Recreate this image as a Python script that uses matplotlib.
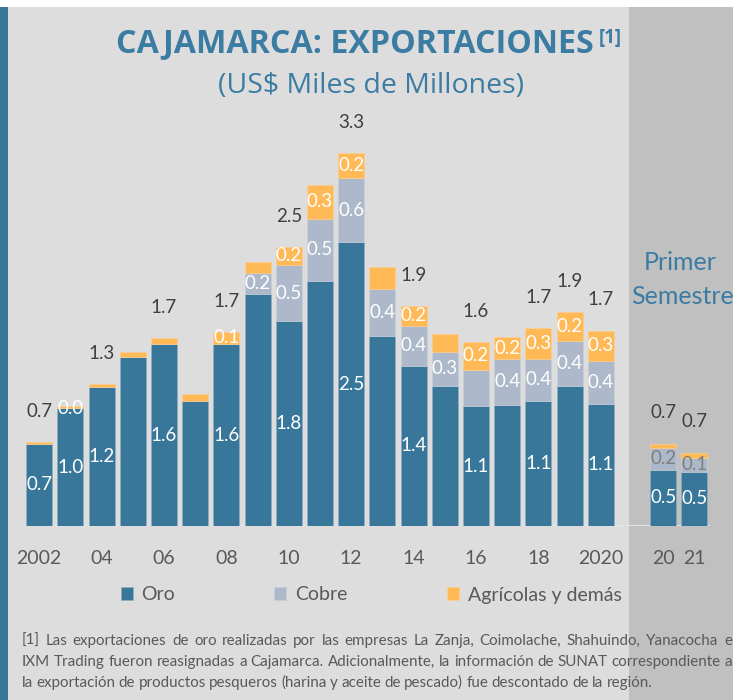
import numpy as np
import matplotlib.pyplot as plt
from matplotlib.patches import Rectangle

plt.rcParams['font.family'] = ['Lato', 'DejaVu Sans']

# ---- data (US$ miles de millones) ----
periodos = ['2002', '2003', '2004', '2005', '2006', '2007', '2008', '2009', '2010', '2011',
            '2012', '2013', '2014', '2015', '2016', '2017', '2018', '2019', '2020',
            '2020 S1', '2021 S1']
oro = [0.73, 1.04, 1.23, 1.50, 1.61, 1.11, 1.61, 2.05, 1.81, 2.17, 2.51, 1.68, 1.42,
       1.24, 1.06, 1.07, 1.11, 1.24, 1.08, 0.50, 0.48]
cobre = [0.00, 0.00, 0.00, 0.00, 0.00, 0.00, 0.00, 0.19, 0.50, 0.55, 0.57, 0.42, 0.35,
         0.30, 0.32, 0.41, 0.37, 0.40, 0.38, 0.19, 0.12]
agricolas = [0.01, 0.02, 0.03, 0.04, 0.05, 0.06, 0.11, 0.10, 0.16, 0.30, 0.22, 0.19, 0.18,
             0.16, 0.25, 0.19, 0.27, 0.25, 0.27, 0.04, 0.05]

oro_lbl = ['0.7', '1.0', '1.2', '', '1.6', '', '1.6', '', '1.8', '', '2.5', '', '1.4',
           '', '1.1', '', '1.1', '', '1.1', '0.5', '0.5']
cobre_lbl = ['', '0.0', '', '', '', '', '', '0.2', '0.5', '0.5', '0.6', '0.4', '0.4',
             '0.3', '', '0.4', '0.4', '0.4', '0.4', '0.2', '0.1']
agr_lbl = ['', '', '', '', '', '', '0.1', '', '0.2', '0.3', '0.2', '', '0.2',
           '', '0.2', '0.2', '0.3', '0.2', '0.3', '', '']
total_lbl = ['0.7', '', '1.3', '', '1.7', '', '1.7', '', '2.5', '', '3.3', '', '1.9',
             '', '1.6', '', '1.7', '1.9', '1.7', '0.7', '0.7']

tick_labels = ['2002', '04', '06', '08', '10', '12', '14', '16', '18', '2020', '20', '21']
tick_idx = [0, 2, 4, 6, 8, 10, 12, 14, 16, 18, 19, 20]

footnote = [
    "[1] Las exportaciones de oro realizadas por las empresas La Zanja, Coimolache, Shahuindo, Yanacocha e",
    "IXM Trading fueron reasignadas a Cajamarca. Adicionalmente, la información de SUNAT correspondiente a",
    "la exportación de productos pesqueros (harina y aceite de pescado) fue descontado de la región.",
]

# ---- colours ----
c_oro = '#387799'
c_cobre = '#ADB9CA'
c_agr = '#FFB957'
c_title = '#3B7CA3'
c_text = '#595959'

W, H = 744, 700
fig = plt.figure(figsize=(W / 100, H / 100), dpi=100)
fig.patch.set_facecolor('#DDDDDD')

# background panels
fig.patches.append(Rectangle((629 / W, 0), 104 / W, 693 / H, transform=fig.transFigure,
                             facecolor='#C0C0C0', edgecolor='none', zorder=-10))
fig.patches.append(Rectangle((0, 0), 8 / W, 693 / H, transform=fig.transFigure,
                             facecolor=c_oro, edgecolor='none', zorder=-10))
fig.patches.append(Rectangle((0, 693 / H), 1, 7 / H, transform=fig.transFigure,
                             facecolor='white', edgecolor='none', zorder=-10))
fig.patches.append(Rectangle((733 / W, 0), 11 / W, 1, transform=fig.transFigure,
                             facecolor='white', edgecolor='none', zorder=-10))

ax = fig.add_axes([22 / W, 174 / H, 688 / W, 3.8 * 113 / H])
ax.set_facecolor('none')
for s in ax.spines.values():
    s.set_visible(False)

x = np.array(list(range(19)) + [20, 21])
oro_a = np.array(oro)
cob_a = np.array(cobre)
agr_a = np.array(agricolas)
total = oro_a + cob_a + agr_a

w = 0.83
b1 = ax.bar(x, oro_a, w, color=c_oro, edgecolor='#8FAFC4', linewidth=0.4, label='Oro')
b2 = ax.bar(x, cob_a, w, bottom=oro_a, color=c_cobre, edgecolor='#C9D1DB', linewidth=0.4,
            label='Cobre')
b3 = ax.bar(x, agr_a, w, bottom=oro_a + cob_a, color=c_agr, edgecolor='#FFD08F',
            linewidth=0.4, label='Agrícolas y demás')
ax.axhline(0, color='#E6E6E6', lw=1.5, zorder=0)

fs = 13.5
for i in range(len(x)):
    if oro_lbl[i]:
        ax.text(x[i], oro_a[i] / 2, oro_lbl[i], ha='center', va='center', color='white',
                fontsize=fs)
    if cobre_lbl[i]:
        col = '#7F7F7F' if i >= 19 else 'white'
        ax.text(x[i], oro_a[i] + cob_a[i] / 2, cobre_lbl[i], ha='center', va='center',
                color=col, fontsize=fs)
    if agr_lbl[i]:
        ax.text(x[i], oro_a[i] + cob_a[i] + agr_a[i] / 2, agr_lbl[i], ha='center',
                va='center', color='white', fontsize=fs)
    if total_lbl[i]:
        ax.annotate(total_lbl[i], (x[i], total[i]), xytext=(0, 22), textcoords='offset points',
                    ha='center', va='center', color='#404040', fontsize=fs)

ax.set_xlim(-0.55, 21.5)
ax.set_ylim(0, 3.8)
ax.set_yticks([])
ax.set_xticks(x[tick_idx], tick_labels)
ax.tick_params(axis='x', length=0, pad=17, labelsize=14, labelcolor=c_text)

# legend
fig.legend(handles=[b1, b2, b3], loc='center', bbox_to_anchor=(371 / W, 1 - 595 / H),
           ncol=3, frameon=False, fontsize=14, labelcolor=c_text,
           handlelength=0.62, handleheight=0.62, handletextpad=0.45, columnspacing=5.1)

# titles
r = fig.canvas.get_renderer()
t1 = fig.text(355 / W, 1 - 44 / H, 'CAJAMARCA: EXPORTACIONES', ha='center', va='center',
              fontsize=23.2, fontweight='bold', color=c_title, family='Open Sans')
bb = t1.get_window_extent(r)
fig.text(bb.x1 / W + 5 / W, 1 - 38 / H, '[1]', ha='left', va='center', fontsize=13.5,
         fontweight='bold', color=c_title, family='Open Sans')
fig.text(371 / W, 1 - 86 / H, '(US$ Miles de Millones)', ha='center', va='center',
         fontsize=20.5, color=c_title, family='Open Sans')
fig.text(680 / W, 1 - 263 / H, 'Primer', ha='center', va='center', fontsize=18, color=c_title)
fig.text(683 / W, 1 - 297 / H, 'Semestre', ha='center', va='center', fontsize=18,
         color=c_title)

# footnote, justified word by word
x0, x1 = 22 / W, 732 / W
ys = [645, 666, 687]
for k, line in enumerate(footnote):
    words = line.split()
    texts = [fig.text(0, 1 - ys[k] / H, wd, fontsize=10.9, color=c_text, va='baseline')
             for wd in words]
    widths = [t.get_window_extent(r).width / W for t in texts]
    if k < len(footnote) - 1:
        gap = (x1 - x0 - sum(widths)) / (len(words) - 1)
    else:
        gap = 3.3 / W
    pos = x0
    for t, wd in zip(texts, widths):
        t.set_x(pos)
        pos += wd + gap

fig.savefig('out.png', dpi=100, facecolor=fig.get_facecolor())
